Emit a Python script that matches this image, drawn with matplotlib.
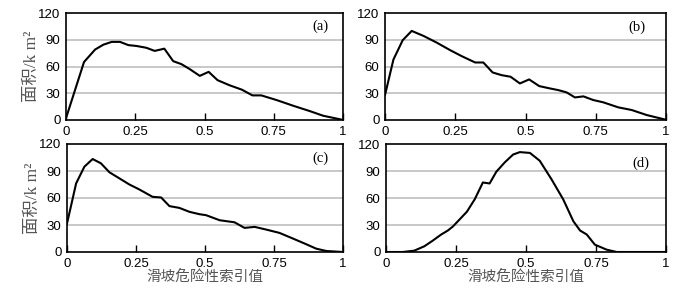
import matplotlib
matplotlib.use("Agg")
import matplotlib.pyplot as plt

# Data: landslide hazard index (x) vs area km^2 (y)
xa = [0, 0.065, 0.105, 0.135, 0.165, 0.195, 0.225, 0.255, 0.29, 0.32, 0.355, 0.387, 0.417, 0.447,
      0.483, 0.515, 0.547, 0.59, 0.635, 0.673, 0.705, 0.76, 0.82, 0.88, 0.928, 0.994]
ya = [2, 65, 79, 84.5, 87.6, 87.6, 84, 83, 81, 77.5, 80, 66, 62.6, 57,
      49.5, 54, 44.7, 39, 34, 27.6, 27.6, 22.4, 16, 10, 4.8, 0.5]

xb = [0, 0.03, 0.063, 0.095, 0.137, 0.184, 0.232, 0.273, 0.321, 0.35, 0.383, 0.415, 0.447, 0.48,
      0.513, 0.549, 0.587, 0.617, 0.646, 0.676, 0.706, 0.741, 0.777, 0.83, 0.878, 0.931, 0.997]
yb = [28, 67.8, 89.5, 99.9, 94.3, 86.8, 78.3, 71.6, 64.5, 64.5, 53.3, 50.3, 48.5, 41,
      45.5, 38, 35.4, 33.5, 31, 25.3, 26.5, 22.4, 19.8, 14.2, 11.2, 5.6, 0.5]

xc = [0, 0.033, 0.063, 0.093, 0.123, 0.154, 0.19, 0.226, 0.262, 0.31, 0.341, 0.371, 0.407, 0.444,
      0.48, 0.504, 0.553, 0.607, 0.643, 0.68, 0.722, 0.77, 0.819, 0.867, 0.903, 0.94, 1.0]
yc = [31.6, 76.2, 94.8, 103.3, 98.5, 88.5, 81.8, 75, 69.5, 61.3, 60.6, 51, 49, 44.6,
      42, 40.9, 35.3, 33, 26.8, 27.9, 24.9, 21.2, 14.9, 8.6, 3.7, 1.1, 0]

xd = [0, 0.06, 0.101, 0.137, 0.167, 0.197, 0.221, 0.239, 0.263, 0.289, 0.317, 0.346, 0.37, 0.394,
      0.424, 0.454, 0.478, 0.514, 0.549, 0.591, 0.633, 0.669, 0.693, 0.717, 0.746, 0.788, 0.824, 1.0]
yd = [0, 0, 1.5, 6.4, 12.7, 19.5, 24, 28.5, 36.4, 45, 58.9, 77.6, 76.5, 89.6,
      100, 108.8, 111.5, 110.6, 101.9, 81.2, 58.7, 34.4, 24, 19.5, 8.2, 2.6, 0, 0]

panel_labels = ["(a)", "(b)", "(c)", "(d)"]
xticks = [0, 0.25, 0.5, 0.75, 1]
xticklabels = ["0", "0.25", "0.5", "0.75", "1"]
yticks = [0, 30, 60, 90, 120]
ylabel = "面积/k m²"
xlabel = "滑坡危险性索引值"

fig = plt.figure(figsize=(6.93, 2.95), dpi=100)
W, H = 693, 295
boxes = [(66, 13, 343, 120), (385, 13, 666, 120), (67, 144, 343, 252), (386, 144.5, 666, 252)]
label_pos = [(0.917, 0.88), (0.895, 0.87), (0.917, 0.87), (0.912, 0.83)]
series = [(xa, ya), (xb, yb), (xc, yc), (xd, yd)]
cjk = ["Noto Sans CJK SC", "DejaVu Sans"]
serif_cjk = ["Liberation Serif", "Noto Sans CJK SC"]

for i, ((l, t, r, b), (x, y)) in enumerate(zip(boxes, series)):
    ax = fig.add_axes([l / W, 1 - b / H, (r - l) / W, (b - t) / H])
    ax.set_xlim(0, 1)
    ax.set_ylim(0, 120)
    for g in [30, 60, 90]:
        ax.axhline(g, color="#c4c4c4", lw=1.3, zorder=1)
    ax.plot(x, y, color="black", lw=1.5, zorder=3)
    ax.set_xticks(xticks)
    ax.set_xticklabels(xticklabels, fontfamily="Liberation Sans", fontsize=9.5)
    ax.set_yticks(yticks)
    ax.set_yticklabels([str(v) for v in yticks], fontfamily="Liberation Sans", fontsize=9.5)
    ax.tick_params(axis="x", direction="in", length=5, width=1, pad=4)
    ax.tick_params(axis="y", length=0, pad=4)
    for s in ax.spines.values():
        s.set_linewidth(1.2)
    ax.text(label_pos[i][0], label_pos[i][1], panel_labels[i], transform=ax.transAxes,
            ha="center", va="center", fontfamily="Liberation Serif", fontsize=10.5)
    if i in (0, 2):
        ax.set_ylabel(ylabel, fontfamily=serif_cjk, fontsize=12.5, color="#555555")
        ax.yaxis.set_label_coords(-0.095, 0.5)
    if i in (2, 3):
        ax.set_xlabel(xlabel, fontfamily=cjk, fontsize=10.5, color="#555555", labelpad=0)

fig.savefig("out.png", dpi=100)
